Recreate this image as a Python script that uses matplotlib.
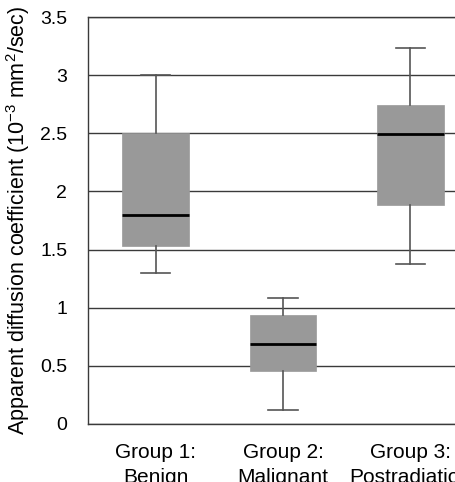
import matplotlib.pyplot as plt

plt.rcParams['font.family'] = ['Liberation Sans', 'DejaVu Sans']
plt.rcParams['mathtext.fontset'] = 'custom'
plt.rcParams['mathtext.rm'] = 'Liberation Sans'
plt.rcParams['mathtext.it'] = 'Liberation Sans:italic'

groups = ['Group 1:\nBenign', 'Group 2:\nMalignant', 'Group 3:\nPostradiation']
whisker_low = [1.30, 0.12, 1.38]
q1 = [1.53, 0.46, 1.88]
median = [1.80, 0.69, 2.49]
q3 = [2.50, 0.94, 2.74]
whisker_high = [3.00, 1.08, 3.23]

stats = []
for i in range(len(groups)):
    stats.append({'whislo': whisker_low[i], 'q1': q1[i], 'med': median[i],
                  'q3': q3[i], 'whishi': whisker_high[i], 'fliers': []})

fig = plt.figure(figsize=(4.55, 4.82), dpi=100)
ax = fig.add_axes([88 / 455, 58 / 482, 390 / 455, 407 / 482])

ax.yaxis.grid(True, color='#3a3a3a', linewidth=1)
ax.set_axisbelow(True)

ax.bxp(stats, positions=[1, 2, 3], widths=0.52, patch_artist=True,
       showfliers=False,
       boxprops=dict(facecolor='#999999', edgecolor='#999999', linewidth=0.5),
       medianprops=dict(color='black', linewidth=2),
       whiskerprops=dict(color='#555555', linewidth=1.2),
       capprops=dict(color='#555555', linewidth=1.2),
       capwidths=0.23)

ax.set_xlim(0.47, 3.53)
ax.set_ylim(0, 3.5)
ax.set_yticks([0, 0.5, 1, 1.5, 2, 2.5, 3, 3.5])
ax.set_yticklabels(['0', '0.5', '1', '1.5', '2', '2.5', '3', '3.5'])
ax.set_xticks([1, 2, 3])
ax.set_xticklabels(groups, fontsize=15, linespacing=1.4)
ax.tick_params(axis='y', length=0, labelsize=14, pad=15)
ax.tick_params(axis='x', length=0, pad=14)
for s in ax.spines.values():
    s.set_color('#3a3a3a')
    s.set_linewidth(1)

ax.set_ylabel('Apparent diffusion coefficient (10$^{\\mathregular{-3}}$ mm$^{\\mathregular{2}}$/sec)',
              fontsize=15.5, labelpad=6)

plt.savefig('out.png', dpi=100)
